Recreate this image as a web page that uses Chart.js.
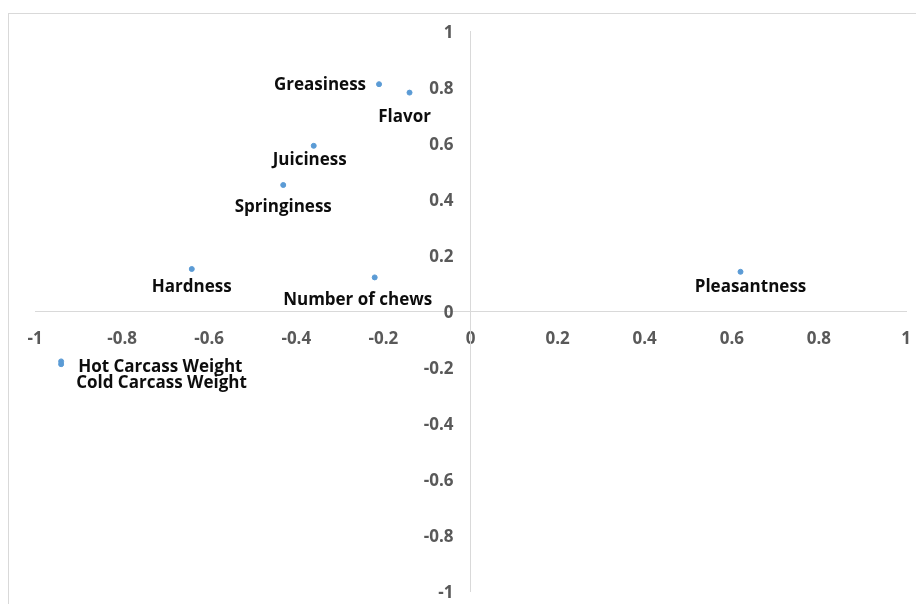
<!DOCTYPE html>
<html>
<head>
<meta charset="utf-8">
<script src="https://cdn.jsdelivr.net/npm/chart.js@4"></script>
<style>
  html, body { margin: 0; padding: 0; background: #fff; }
  #wrap { width: 916px; height: 604px; position: relative; }
</style>
</head>
<body>
<div id="wrap"><canvas id="chartAtributos"></canvas></div>
<script>
// data
const nombres = ["Greasiness", "Flavor", "Juiciness", "Springiness", "Hardness",
    "Number of chews", "Pleasantness", "Hot Carcass Weight", "Cold Carcass Weight"];
const valoresX = [-0.21, -0.14, -0.36, -0.43, -0.64, -0.22, 0.62, -0.94, -0.94];
const valoresY = [0.81, 0.78, 0.59, 0.45, 0.15, 0.12, 0.14, -0.18, -0.19];

// where each label sits relative to its dot (align, dx, dy)
const etiquetas = [
    ["right", -13, 1],
    ["center", -5, 25],
    ["center", -4, 14],
    ["center", 0, 22],
    ["center", 0, 18],
    ["center", -17, 23],
    ["center", 10, 15],
    ["left", 17, 6],
    ["left", 15, 19]
];

const puntos = valoresX.map((x, i) => ({ x: x, y: valoresY[i] }));

const fuente = "'Open Sans'";
const formato = v => String(Math.round(v * 10) / 10);

const marco = {
    id: "marco",
    beforeDraw(chart) {
        const c = chart.ctx;
        c.save();
        c.strokeStyle = "#d9d9d9";
        c.lineWidth = 1;
        c.strokeRect(8.5, 13.5, 920, 600);
        c.restore();
    }
};

// y tick labels sit a little left of the centred axis
const ticksY = {
    id: "ticksY",
    afterDraw(chart) {
        const c = chart.ctx;
        const sx = chart.scales.x, sy = chart.scales.y;
        const x0 = sx.getPixelForValue(0);
        c.save();
        c.font = "bold 17px " + fuente;
        c.fillStyle = "#595959";
        c.textAlign = "right";
        c.textBaseline = "middle";
        sy.ticks.forEach(t => {
            c.fillText(formato(t.value), x0 - 17, sy.getPixelForValue(t.value) + 2);
        });
        c.restore();
    }
};

const rotulos = {
    id: "rotulos",
    afterDatasetsDraw(chart) {
        const c = chart.ctx;
        const sx = chart.scales.x, sy = chart.scales.y;
        c.save();
        c.font = "bold 17px " + fuente;
        c.fillStyle = "#0d0d0d";
        c.textBaseline = "middle";
        nombres.forEach((n, i) => {
            const e = etiquetas[i];
            c.textAlign = e[0];
            c.fillText(n, sx.getPixelForValue(valoresX[i]) + e[1], sy.getPixelForValue(valoresY[i]) + e[2]);
        });
        c.restore();
    }
};

const sinRelleno = scale => {
    scale.paddingLeft = 0;
    scale.paddingRight = 0;
    scale.paddingTop = 0;
    scale.paddingBottom = 0;
};

const ctx = document.getElementById("chartAtributos");

new Chart(ctx, {
    type: "scatter",
    data: {
        datasets: [{
            label: "Atributos",
            data: puntos,
            backgroundColor: "#5b9bd5",
            borderColor: "#5b9bd5",
            pointRadius: 2.5,
            pointHoverRadius: 2.5
        }]
    },
    options: {
        responsive: true,
        maintainAspectRatio: false,
        animation: false,
        layout: { padding: { left: 35, right: 10, top: 31, bottom: 13 } },
        plugins: {
            legend: { display: false },
            tooltip: { enabled: false }
        },
        scales: {
            x: {
                type: "linear",
                position: { y: 0 },
                min: -1,
                max: 1,
                afterFit: sinRelleno,
                grid: { display: false },
                border: { display: true, color: "#d9d9d9", width: 1 },
                ticks: {
                    stepSize: 0.2,
                    padding: 10,
                    color: "#595959",
                    font: { family: fuente, size: 17, weight: "bold" },
                    maxRotation: 0,
                    autoSkip: false,
                    callback: formato
                }
            },
            y: {
                type: "linear",
                position: { x: 0 },
                min: -1,
                max: 1,
                afterFit: sinRelleno,
                grid: { display: false },
                border: { display: true, color: "#d9d9d9", width: 1 },
                ticks: {
                    display: false,
                    stepSize: 0.2
                }
            }
        }
    },
    plugins: [marco, rotulos, ticksY]
});
</script>
</body>
</html>
